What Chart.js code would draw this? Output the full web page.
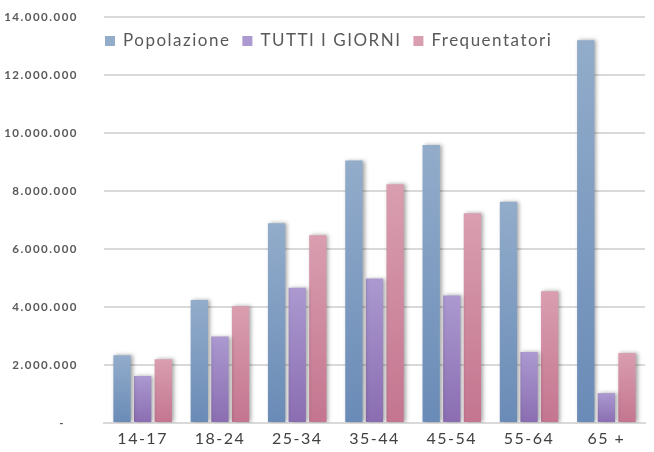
<!DOCTYPE html>
<html>
<head>
<meta charset="utf-8">
<script src="https://cdn.jsdelivr.net/npm/chart.js@4/dist/chart.umd.min.js"></script>
<style>
  html, body { margin:0; padding:0; background:#fff; }
  #box { width:654px; height:452px; }
</style>
</head>
<body>
<div id="box"><canvas id="grafico"></canvas></div>
<script>
// fasce d'età
const fasce = ['14-17', '18-24', '25-34', '35-44', '45-54', '55-64', '65 +'];
const popolazione = [2340000, 4240000, 6890000, 9050000, 9590000, 7630000, 13200000];
const tuttiGiorni = [1620000, 2980000, 4660000, 4980000, 4400000, 2450000, 1030000];
const frequentatori = [2200000, 4030000, 6470000, 8230000, 7230000, 4540000, 2410000];
const ticksY = [0, 2000000, 4000000, 6000000, 8000000, 10000000, 12000000, 14000000];

const colori = [
  ['#92acca', '#6a8bb7'],
  ['#ab99d0', '#8a6db1'],
  ['#d99eaf', '#c4758f']
];

// sfumatura per ogni barra, chiara in alto e scura in basso
function sfumatura(idx){
  return ctx => {
    const ch = ctx.chart;
    const ca = ch.chartArea;
    if(!ca || ctx.raw == null) return colori[idx][1];
    const yTop = ch.scales.y.getPixelForValue(ctx.raw);
    const g = ch.ctx.createLinearGradient(0, yTop, 0, ca.bottom);
    g.addColorStop(0, colori[idx][0]);
    g.addColorStop(1, colori[idx][1]);
    return g;
  };
}

function formatIt(v){
  if(v === 0) return '-   ';
  return v.toString().replace(/\B(?=(\d{3})+(?!\d))/g, '.');
}

// spaziatura lettere come nell'originale
const spaziatura = {
  id:'spaziatura',
  beforeUpdate(chart){ chart.ctx.letterSpacing = '1.5px'; },
  beforeDraw(chart){ chart.ctx.letterSpacing = '1.5px'; }
};

// ombra delle barre
const ombra = {
  id:'ombra',
  beforeDatasetsDraw(chart){
    const c = chart.ctx;
    c.save();
    c.shadowColor = 'rgba(0,0,0,0.35)';
    c.shadowBlur = 4;
    c.shadowOffsetX = 2;
    c.shadowOffsetY = 0;
  },
  afterDatasetsDraw(chart){ chart.ctx.restore(); }
};

// legenda dentro l'area del grafico
const legenda = {
  id:'legenda',
  afterDraw(chart){
    const c = chart.ctx;
    c.save();
    c.letterSpacing = '1.5px';
    c.font = '17px Lato';
    c.textBaseline = 'middle';
    let x = 105;
    const y = 41;
    chart.data.datasets.forEach((ds, i) => {
      c.fillStyle = colori[i][0];
      c.fillRect(x, y - 5, 10, 10);
      x += 18;
      c.fillStyle = '#595959';
      c.fillText(ds.label, x, y);
      x += c.measureText(ds.label).width + 12;
    });
    c.restore();
  }
};

new Chart(document.getElementById('grafico'), {
  type:'bar',
  data:{
    labels: fasce,
    datasets:[
      { label:'Popolazione', data: popolazione, backgroundColor: sfumatura(0) },
      { label:'TUTTI I GIORNI', data: tuttiGiorni, backgroundColor: sfumatura(1) },
      { label:'Frequentatori', data: frequentatori, backgroundColor: sfumatura(2) }
    ]
  },
  options:{
    responsive:true,
    maintainAspectRatio:false,
    animation:false,
    datasets:{ bar:{ categoryPercentage:0.8, barPercentage:0.84 } },
    layout:{ padding:{ top:0, right:9, bottom:0, left:0 } },
    plugins:{ legend:{ display:false }, tooltip:{ enabled:false } },
    scales:{
      x:{
        grid:{ display:false, drawTicks:false },
        border:{ color:'#d9d9d9', width:2 },
        ticks:{ color:'#404040', font:{ family:'Lato', size:16 }, padding:6 },
        afterFit(s){ s.height = 29; }
      },
      y:{
        min:0, max:14000000,
        afterBuildTicks(s){ s.ticks = ticksY.map(v => ({ value:v })); },
        grid:{ color:'#d9d9d9', lineWidth:2, drawTicks:false },
        border:{ display:false },
        ticks:{ color:'#595959', font:{ family:'Lato', size:11.5, weight:'bold' }, padding:26, callback: v => formatIt(v) },
        afterFit(s){ s.width = 104; s.paddingTop = 17; s.paddingBottom = 0; }
      }
    }
  },
  plugins:[spaziatura, ombra, legenda]
});
</script>
</body>
</html>
